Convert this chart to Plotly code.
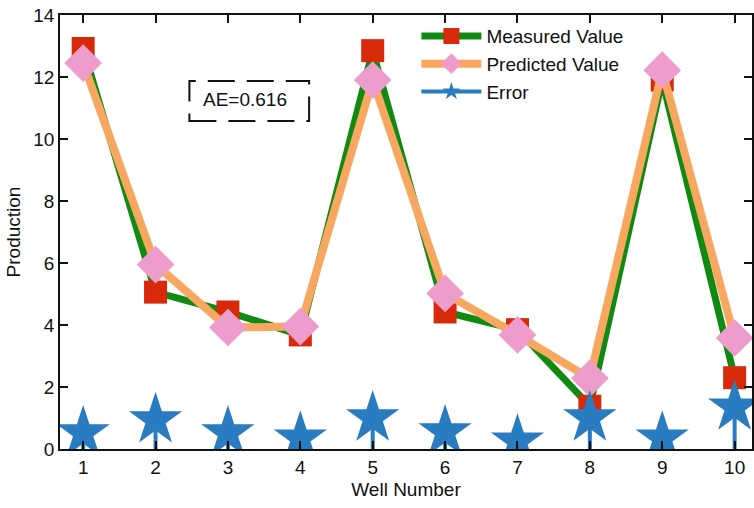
import plotly.graph_objects as go

wells = [1, 2, 3, 4, 5, 6, 7, 8, 9, 10]
measured = [12.92, 5.06, 4.42, 3.68, 12.85, 4.42, 3.85, 1.38, 11.9, 2.3]
predicted = [12.45, 5.95, 3.92, 3.95, 11.9, 5.02, 3.68, 2.28, 12.22, 3.58]
error = [0.52, 0.94, 0.52, 0.35, 1.0, 0.55, 0.25, 1.0, 0.35, 1.35]
y_ticks = [0, 2, 4, 6, 8, 10, 12, 14]
ae_label = "AE=0.616"

# stem coordinates derived from the data
stem_x, stem_y, stem_sizes = [], [], []
for w, e in zip(wells, error):
    stem_x += [w, w, None]
    stem_y += [0, e, None]
    stem_sizes += [0, 40, 0]

FONT = "Liberation Sans, Arial, sans-serif"

fig = go.Figure()
fig.add_trace(go.Scatter(
    x=wells, y=measured, name="Measured Value", mode="lines+markers",
    line=dict(color="#118a11", width=7),
    marker=dict(symbol="square", size=23, color="#d8290b"),
))
fig.add_trace(go.Scatter(
    x=wells, y=predicted, name="Predicted Value", mode="lines+markers",
    line=dict(color="#f7a760", width=8),
    marker=dict(symbol="diamond", size=29, color="#ee9ccc"),
))
fig.add_trace(go.Scatter(
    x=stem_x, y=stem_y, name="Error", mode="lines+markers",
    line=dict(color="#2a7cc0", width=4),
    marker=dict(symbol="star", size=stem_sizes, color="#2a7cc0", opacity=1,
                line=dict(width=0)),
))

fig.add_annotation(
    x=0.267, y=0.806, xref="paper", yref="paper", xanchor="center", yanchor="middle",
    text=ae_label, showarrow=False, font=dict(family=FONT, size=19, color="#111"),
)
fig.add_shape(type="rect", xref="paper", yref="paper",
              x0=0.187, x1=0.36, y0=0.756, y1=0.848,
              line=dict(color="#111", width=2, dash="27px,12px"))

axis_common = dict(
    showline=True, linecolor="#111", linewidth=1.5, mirror="ticks",
    ticks="inside", ticklen=8, tickwidth=1.5, tickcolor="#111",
    showgrid=False, zeroline=False,
    tickfont=dict(family=FONT, size=19, color="#111"),
)

fig.update_layout(
    width=754, height=508,
    margin=dict(l=60, r=0, t=15, b=59),
    paper_bgcolor="white", plot_bgcolor="white",
    xaxis=dict(range=[0.68, 10.24], tickvals=wells,
               title=dict(text="Well Number", font=dict(family=FONT, size=19, color="#111"), standoff=6),
               **axis_common),
    yaxis=dict(range=[0, 14], tickvals=y_ticks,
               title=dict(text="Production", font=dict(family=FONT, size=19, color="#111"), standoff=8),
               **axis_common),
    legend=dict(x=0.515, y=0.995, xanchor="left", yanchor="top",
                bgcolor="rgba(0,0,0,0)", font=dict(family=FONT, size=19, color="#111"),
                itemwidth=60, tracegroupgap=0),
    showlegend=True,
)

fig.write_html("out.html")
